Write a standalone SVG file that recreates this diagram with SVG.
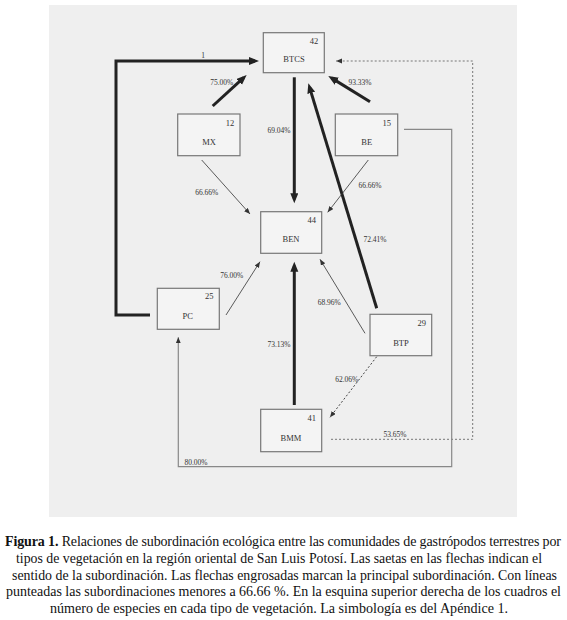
<svg xmlns="http://www.w3.org/2000/svg" width="567" height="620" viewBox="0 0 567 620">
<style>
.box{fill:#f4f4f4;stroke:#777;stroke-width:1.2}
.nm{font-family:"Liberation Serif","Times New Roman",serif;font-size:8.5px;fill:#333;text-anchor:middle}
.num{font-family:"Liberation Serif","Times New Roman",serif;font-size:8.5px;fill:#333;text-anchor:middle}
.pct{font-family:"Liberation Serif","Times New Roman",serif;font-size:7.5px;fill:#333;text-anchor:middle}
.thick{fill:none;stroke:#222;stroke-width:3;marker-end:url(#ah)}
.thin{fill:none;stroke:#333;stroke-width:0.8;marker-end:url(#as)}
.dot{fill:none;stroke:#444;stroke-width:1;stroke-dasharray:2 2;marker-end:url(#as)}
.dotg{fill:none;stroke:#777;stroke-width:1;stroke-dasharray:2 2;marker-end:url(#as)}
.gray{fill:none;stroke:#888;stroke-width:1.2;marker-end:url(#as)}
.cap{font-family:"Liberation Serif","Times New Roman",serif;font-size:14px;fill:#111;text-anchor:start}
</style>
<defs>
<marker id="ah" markerUnits="userSpaceOnUse" markerWidth="12" markerHeight="10" refX="6" refY="4" orient="auto"><path d="M0,0 L10,4 L0,8 z" fill="#222"/></marker>
<marker id="as" markerUnits="userSpaceOnUse" markerWidth="8" markerHeight="6" refX="6" refY="2.5" orient="auto"><path d="M0,0 L6,2.5 L0,5 z" fill="#333"/></marker>
</defs>
<rect x="0" y="0" width="567" height="620" fill="#fff"/>
<rect x="49" y="5" width="468" height="512" fill="#efefef"/>
<g id="connectors">
<path class="thick" d="M150,315 H116 V61 H255"/>
<path class="thick" d="M212.7,106 L243.7,77.7"/>
<path class="thick" d="M370,101.7 L331.7,78.1"/>
<path class="thick" d="M294.3,77.3 V199.3"/>
<path class="thick" d="M376.7,308.3 L309.5,87.1"/>
<path class="thick" d="M294.3,405 V265.7"/>
<path class="thin" d="M201.7,160 L250,214"/>
<path class="thin" d="M368.3,160 L327.7,212.3"/>
<path class="thin" d="M226,315 L260,261.7"/>
<path class="thin" d="M365,333.3 L320,259.3"/>
<path class="dot" d="M376.7,356.7 L330,417.3"/>
<path class="dotg" d="M331,439.3 H472.7 V61 H336"/>
<path class="gray" d="M404,129.3 H451.7 V466.7 H178.3 V337.3"/>
<text class="pct" x="203" y="57.5">1</text>
<text class="pct" x="221.7" y="85">75.00%</text>
<text class="pct" x="360" y="85">93.33%</text>
<text class="pct" x="279" y="132.5">69.04%</text>
<text class="pct" x="206.7" y="194.8">66.66%</text>
<text class="pct" x="370" y="187.5">66.66%</text>
<text class="pct" x="375" y="241.8">72.41%</text>
<text class="pct" x="231.7" y="277.5">76.00%</text>
<text class="pct" x="329.3" y="305.2">68.96%</text>
<text class="pct" x="279" y="346.8">73.13%</text>
<text class="pct" x="346.7" y="381.5">62.06%</text>
<text class="pct" x="395" y="436.8">53.65%</text>
<text class="pct" x="196" y="464.8">80.00%</text>
</g>
<g id="BTCS"><rect class="box" x="263.3" y="32.7" width="61" height="40"/><text class="num" x="314" y="43.5">42</text><text class="nm" x="294" y="62">BTCS</text></g>
<g id="MX"><rect class="box" x="177.7" y="114" width="62.3" height="41.7"/><text class="num" x="230" y="125.5">12</text><text class="nm" x="209" y="145">MX</text></g>
<g id="BE"><rect class="box" x="335.3" y="114" width="62.4" height="41.7"/><text class="num" x="386.7" y="125.5">15</text><text class="nm" x="366.7" y="145">BE</text></g>
<g id="BEN"><rect class="box" x="260.7" y="211.7" width="61" height="41.6"/><text class="num" x="311.7" y="223">44</text><text class="nm" x="291" y="242.3">BEN</text></g>
<g id="PC"><rect class="box" x="157.3" y="288.3" width="62" height="41"/><text class="num" x="209.3" y="299">25</text><text class="nm" x="187.7" y="318.7">PC</text></g>
<g id="BTP"><rect class="box" x="370" y="314.3" width="61.7" height="41.4"/><text class="num" x="421.7" y="326.3">29</text><text class="nm" x="401" y="345.7">BTP</text></g>
<g id="BMM"><rect class="box" x="260.7" y="409.3" width="61" height="42.4"/><text class="num" x="311.7" y="420.7">41</text><text class="nm" x="291" y="440.7">BMM</text></g>
<g id="caption">
<text class="cap" x="5" y="546.3" font-size="13.2px" textLength="556" lengthAdjust="spacing"><tspan font-weight="bold">Figura 1.</tspan> Relaciones de subordinación ecológica entre las comunidades de gastrópodos terrestres por</text>
<text class="cap" x="16" y="563" textLength="526" lengthAdjust="spacingAndGlyphs">tipos de vegetación en la región oriental de San Luis Potosí. Las saetas en las flechas indican el</text>
<text class="cap" x="12" y="579.7" textLength="545" lengthAdjust="spacingAndGlyphs">sentido de la subordinación. Las flechas engrosadas marcan la principal subordinación. Con líneas</text>
<text class="cap" x="6" y="596.4" textLength="555" lengthAdjust="spacingAndGlyphs">punteadas las subordinaciones menores a 66.66 %. En la esquina superior derecha de los cuadros el</text>
<text class="cap" x="50" y="613" textLength="458" lengthAdjust="spacingAndGlyphs">número de especies en cada tipo de vegetación. La simbología es del Apéndice 1.</text>
</g>
</svg>
